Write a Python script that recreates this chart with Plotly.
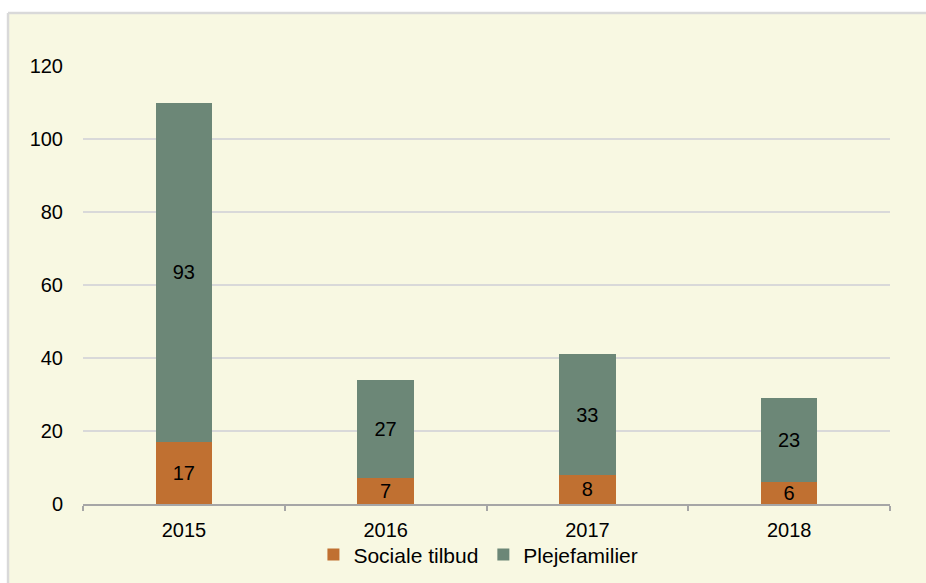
import plotly.graph_objects as go

years = ["2015", "2016", "2017", "2018"]
sociale_tilbud = [17, 7, 8, 6]
plejefamilier = [93, 27, 33, 23]

ORANGE = "#C07031"
GREEN = "#6C8777"
BEIGE = "#F8F8E2"
FONT = "Liberation Sans, Arial, sans-serif"

fig = go.Figure()
for name, vals, col in [("Sociale tilbud", sociale_tilbud, ORANGE),
                        ("Plejefamilier", plejefamilier, GREEN)]:
    fig.add_trace(go.Bar(
        x=years, y=vals, name=name,
        marker=dict(color=col, line=dict(width=0)),
        text=vals, textposition="inside", insidetextanchor="middle",
        textangle=0, constraintext="none",
        textfont=dict(color="black", size=20, family=FONT),
        width=0.28,
    ))

FX = -0.0929   # frame left edge (paper coords)
FY = 1.121     # frame top edge (paper coords)
# white strips above and left of the beige chart area, plus light-grey frame border
fig.add_shape(type="rect", xref="paper", yref="paper",
              x0=-0.3, x1=1.3, y0=FY, y1=1.4,
              fillcolor="white", line=dict(width=0), layer="below")
fig.add_shape(type="rect", xref="paper", yref="paper",
              x0=-0.3, x1=FX, y0=-0.4, y1=1.4,
              fillcolor="white", line=dict(width=0), layer="below")
fig.add_shape(type="line", xref="paper", yref="paper",
              x0=FX, x1=1.3, y0=FY, y1=FY,
              line=dict(color="#D9D9D9", width=2.5), layer="below")
fig.add_shape(type="line", xref="paper", yref="paper",
              x0=FX, x1=FX, y0=FY, y1=-0.4,
              line=dict(color="#D9D9D9", width=2.5), layer="below")

fig.update_layout(
    width=926, height=592,
    barmode="stack",
    paper_bgcolor=BEIGE,
    plot_bgcolor="rgba(0,0,0,0)",
    margin=dict(l=83, r=36, t=66, b=88),
    font=dict(family=FONT, size=20, color="black"),
    showlegend=True,
    legend=dict(orientation="h", x=0.49, xanchor="center", y=-0.116, yanchor="middle",
                font=dict(size=21), bgcolor="rgba(0,0,0,0)", traceorder="normal",
                itemwidth=30),
    xaxis=dict(showline=True, linecolor="#A6A6A6", linewidth=1.5,
               ticks="outside", tickson="boundaries", ticklen=5, tickcolor="#A6A6A6",
               tickwidth=1.5, showgrid=False, tickfont=dict(size=20),
               ticklabelstandoff=7),
    yaxis=dict(range=[0, 120], dtick=20, showgrid=True, gridcolor="#D9D9D9",
               gridwidth=1.5, zeroline=False, showline=False, ticks="",
               tickfont=dict(size=20), ticklabelstandoff=19),
)

fig.write_html(
    "out.html", config={"displayModeBar": False},
    post_script=("document.documentElement.style.overflow='hidden';"
                 "document.body.style.margin='0';"
                 "document.body.style.overflow='hidden';"
                 "document.body.style.background='#F8F8E2';"))
